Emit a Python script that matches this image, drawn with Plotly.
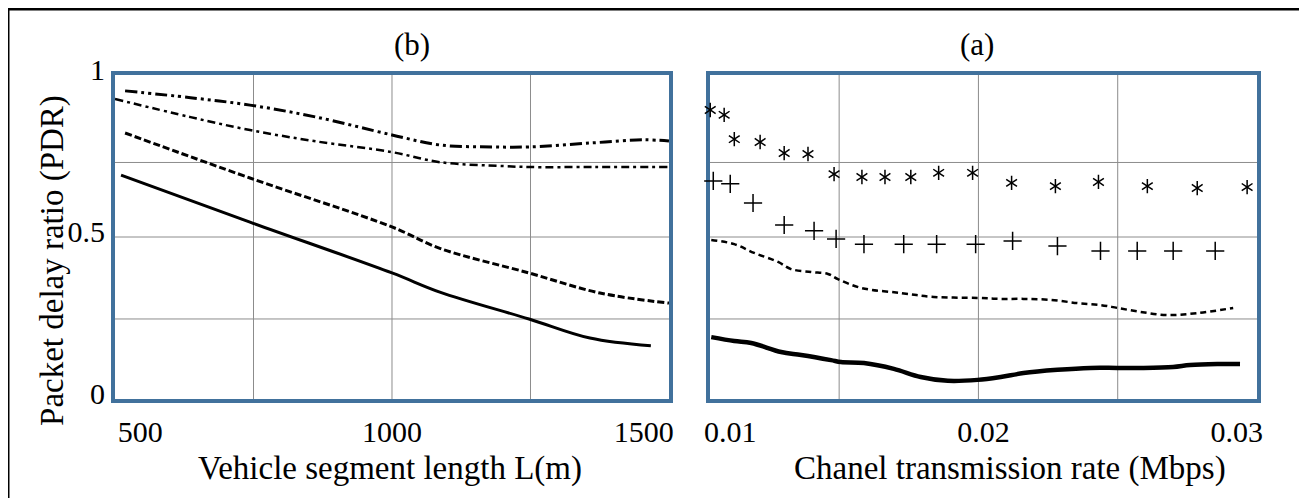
import plotly.graph_objects as go

# ---------------- data: panel (b) ----------------
b_dd_x = [470, 600, 718, 850, 1000, 1095, 1200, 1272, 1393, 1500, 1550]
b_dd_y = [0.951, 0.930, 0.907, 0.870, 0.815, 0.784, 0.778, 0.778, 0.790, 0.800, 0.796]

b_dot_x = [450, 600, 718, 850, 1000, 1095, 1220, 1272, 1400, 1550]
b_dot_y = [0.926, 0.870, 0.830, 0.795, 0.762, 0.731, 0.719, 0.716, 0.716, 0.716]

b_dash_x = [470, 718, 1000, 1095, 1272, 1413, 1550]
b_dash_y = [0.821, 0.682, 0.531, 0.465, 0.389, 0.327, 0.296]

b_solid_x = [462, 718, 1000, 1095, 1272, 1393, 1514]
b_solid_y = [0.691, 0.546, 0.389, 0.330, 0.247, 0.188, 0.164]

# ---------------- data: panel (a) ----------------
a_star_x = [0.00921, 0.00976, 0.01016, 0.01118, 0.01213, 0.01307, 0.01410, 0.01520, 0.01611,
            0.01713, 0.01823, 0.01957, 0.02111, 0.02284, 0.02454, 0.02647, 0.02844, 0.03041]
a_star_y = [0.892, 0.877, 0.802, 0.793, 0.759, 0.756, 0.694, 0.685, 0.685,
            0.685, 0.698, 0.698, 0.667, 0.657, 0.670, 0.657, 0.651, 0.654]

a_plus_x = [0.00933, 0.01000, 0.01090, 0.01213, 0.01331, 0.01418, 0.01528, 0.01685,
            0.01815, 0.01969, 0.02115, 0.02292, 0.02462, 0.02607, 0.02749, 0.02915]
a_plus_y = [0.673, 0.664, 0.605, 0.537, 0.519, 0.494, 0.478, 0.478,
            0.478, 0.478, 0.488, 0.472, 0.457, 0.457, 0.457, 0.457]

a_dash_x = [0.00925, 0.01016, 0.01094, 0.01189, 0.01240, 0.01319, 0.01386, 0.01425, 0.01516,
            0.01674, 0.01804, 0.01977, 0.02068, 0.02158, 0.02265, 0.02371, 0.02462, 0.02529,
            0.02619, 0.02726, 0.02844, 0.02986]
a_dash_y = [0.491, 0.478, 0.451, 0.423, 0.401, 0.392, 0.386, 0.370, 0.343,
            0.327, 0.315, 0.312, 0.309, 0.309, 0.306, 0.296, 0.290, 0.281,
            0.269, 0.259, 0.265, 0.281]

a_solid_x = [0.00925, 0.01016, 0.01083, 0.01201, 0.01280, 0.01398, 0.01437, 0.01528, 0.01646,
             0.01752, 0.01859, 0.01977, 0.02068, 0.02158, 0.02292, 0.02422, 0.02529, 0.02631,
             0.02749, 0.02816, 0.02923, 0.03013]
a_solid_y = [0.191, 0.179, 0.173, 0.145, 0.136, 0.120, 0.114, 0.111, 0.093,
             0.068, 0.056, 0.059, 0.068, 0.080, 0.090, 0.096, 0.096, 0.096,
             0.099, 0.105, 0.108, 0.108]

b_ticks = [500, 1000, 1500]
a_ticks = [0.01, 0.02, 0.03]
a_ticktext = ["0.01", "0.02", "0.03"]
y_ticks = [0, 0.5, 1]
y_ticktext = ["0", "0.5", "1"]

# ---------------- styling ----------------
FONT = "Liberation Serif"
BOX = "#41719c"
GRID = "#8c8c8c"
b_grid_x = [725, 1000, 1275]
a_grid_x = [0.0143, 0.0198, 0.0253]
grid_y = [0.247, 0.5, 0.73]

fig = go.Figure()

# panel (b)
fig.add_trace(go.Scatter(x=b_dd_x, y=b_dd_y, mode="lines", line=dict(color="black", width=3, dash="12px,4px,3px,4px,3px,4px", shape="spline"), xaxis="x", yaxis="y"))
fig.add_trace(go.Scatter(x=b_dot_x, y=b_dot_y, mode="lines", line=dict(color="black", width=2.5, dash="8px,4px,3px,4px", shape="spline"), xaxis="x", yaxis="y"))
fig.add_trace(go.Scatter(x=b_dash_x, y=b_dash_y, mode="lines", line=dict(color="black", width=3, dash="7px,3px", shape="spline"), xaxis="x", yaxis="y"))
fig.add_trace(go.Scatter(x=b_solid_x, y=b_solid_y, mode="lines", line=dict(color="black", width=3, shape="spline"), xaxis="x", yaxis="y"))

# panel (a)
for sym in ["y-up-open", "y-down-open"]:
    fig.add_trace(go.Scatter(x=a_star_x, y=a_star_y, mode="markers", cliponaxis=False,
                             marker=dict(symbol=sym, size=9, color="black", line=dict(color="black", width=1.5)),
                             xaxis="x2", yaxis="y2"))
fig.add_trace(go.Scatter(x=a_plus_x, y=a_plus_y, mode="markers", cliponaxis=False,
                         marker=dict(symbol="cross-thin-open", size=13, color="black", line=dict(color="black", width=1.5)),
                         xaxis="x2", yaxis="y2"))
fig.add_trace(go.Scatter(x=a_dash_x, y=a_dash_y, mode="lines", line=dict(color="black", width=2.5, dash="6px,4px", shape="spline"), xaxis="x2", yaxis="y2"))
fig.add_trace(go.Scatter(x=a_solid_x, y=a_solid_y, mode="lines", line=dict(color="black", width=4.5, shape="spline"), xaxis="x2", yaxis="y2"))

axis_common = dict(showgrid=False, zeroline=False, showline=True, linecolor=BOX, linewidth=4,
                   mirror=True, ticks="")
tick_font = dict(family=FONT, size=30, color="black")

fig.update_layout(
    width=1299, height=490, autosize=False,
    margin=dict(l=107, r=50, t=67, b=99, pad=0),
    paper_bgcolor="white", plot_bgcolor="white", showlegend=False,
    xaxis=dict(domain=[0, 0.4851], range=[450, 1550], tickvals=b_ticks, tickfont=tick_font,
               ticklabelstandoff=3, **axis_common),
    yaxis=dict(domain=[0, 1], range=[0, 1], tickvals=y_ticks, ticktext=y_ticktext, tickfont=tick_font,
               ticklabelshift=-6, **axis_common),
    xaxis2=dict(domain=[0.5210, 1], range=[0.0092, 0.0308], tickvals=a_ticks, ticktext=a_ticktext,
                anchor="y2", tickfont=tick_font, ticklabelstandoff=3, layer="below traces", **axis_common),
    yaxis2=dict(domain=[0, 1], range=[0, 1], anchor="x2", showticklabels=False, layer="below traces", **axis_common),
)

shapes = []
for gx in b_grid_x:
    shapes.append(dict(type="line", xref="x", yref="y domain", x0=gx, x1=gx, y0=0, y1=1, layer="below", line=dict(color=GRID, width=1)))
for gx in a_grid_x:
    shapes.append(dict(type="line", xref="x2", yref="y2 domain", x0=gx, x1=gx, y0=0, y1=1, layer="below", line=dict(color=GRID, width=1)))
for gy in grid_y:
    shapes.append(dict(type="line", xref="x domain", yref="y", x0=0, x1=1, y0=gy, y1=gy, layer="below", line=dict(color=GRID, width=1)))
    shapes.append(dict(type="line", xref="x2 domain", yref="y2", x0=0, x1=1, y0=gy, y1=gy, layer="below", line=dict(color=GRID, width=1)))
shapes.append(dict(type="rect", xref="paper", yref="paper", x0=-0.0937, x1=1.0394, y0=-0.35, y1=1.2037,
                   line=dict(color="black", width=3), fillcolor="rgba(0,0,0,0)"))
fig.update_layout(shapes=shapes)

ann_font = dict(family=FONT, size=31, color="black")
title_font = dict(family=FONT, size=33, color="black")
fig.add_annotation(text="(b)", xref="paper", yref="paper", x=0.260, y=1.0926, showarrow=False, font=ann_font, xanchor="center", yanchor="middle")
fig.add_annotation(text="(a)", xref="paper", yref="paper", x=0.755, y=1.0926, showarrow=False, font=ann_font, xanchor="center", yanchor="middle")
fig.add_annotation(text="Packet delay ratio (PDR)", xref="paper", yref="paper", x=-0.0552, y=0.429, textangle=-90,
                   showarrow=False, font=title_font, xanchor="center", yanchor="middle")
fig.add_annotation(text="Vehicle segment length L(m)", xref="paper", yref="paper", x=0.2408, y=-0.213,
                   showarrow=False, font=title_font, xanchor="center", yanchor="middle")
fig.add_annotation(text="Chanel transmission rate (Mbps)", xref="paper", yref="paper", x=0.7837, y=-0.213,
                   showarrow=False, font=title_font, xanchor="center", yanchor="middle")

fig.write_html("out.html")
